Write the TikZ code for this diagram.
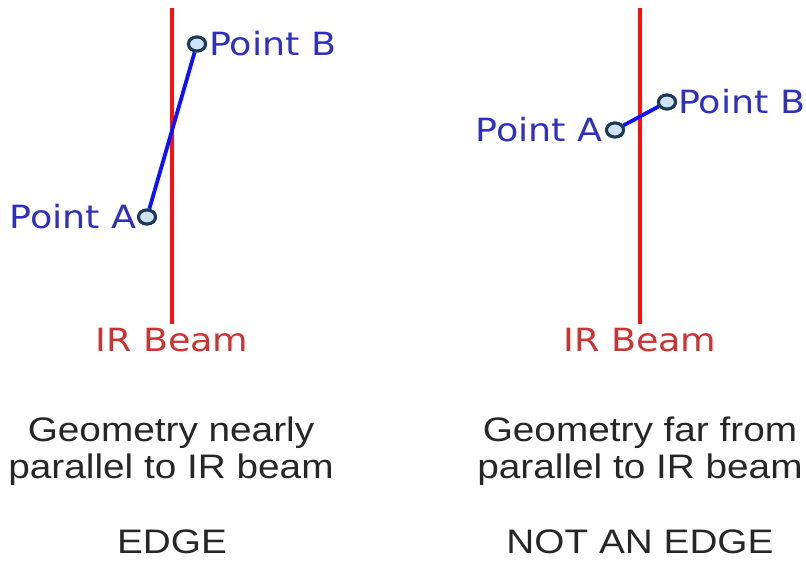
\documentclass[tikz,border=0pt]{standalone}
\usepackage{fontspec}
\usetikzlibrary{shapes.geometric}
\newfontfamily\lblfont[FakeStretch=1.14]{DejaVu Sans}
\newfontfamily\capfont[FakeStretch=1.14]{Liberation Sans}
\definecolor{beamred}{HTML}{FF1010}
\definecolor{beamtxt}{HTML}{CC3333}
\definecolor{ptblue}{HTML}{1010FF}
\definecolor{ptlbl}{HTML}{3030C0}
\definecolor{ptfill}{HTML}{CFE2F3}
\definecolor{ptedge}{HTML}{1C3A55}
\begin{document}
\begin{tikzpicture}[x=1pt,y=-1pt,
  beam/.style={draw=beamred,line width=3.5pt},
  beamlbl/.style={text=beamtxt,font=\lblfont\fontsize{32}{36}\selectfont,inner sep=0pt},
  pt/.style={ellipse,draw=ptedge,fill=ptfill,line width=3pt,minimum width=17pt,minimum height=14pt,inner sep=0pt},
  ptlabel/.style={text=ptlbl,font=\lblfont\fontsize{32}{36}\selectfont,inner sep=0pt},
  seg/.style={draw=ptblue,line width=3.8pt},
  captxt/.style={font=\capfont\fontsize{34}{37}\selectfont,align=center,inner sep=0pt,text=black!85}
]
\useasboundingbox (0,0) rectangle (806,561);
% left panel
\coordinate (lt) at (172,8);
\node[beamlbl,anchor=north] (lbeam) at (172,328) {IR Beam};
\draw[beam] (lt) -- (172,324);
\node[pt] (la) at (147,217) {};
\node[pt] (lb) at (197,44) {};
\draw[seg] (la) -- (lb);
\node[pt] at (147,217) {};
\node[pt] at (197,44) {};
\node[ptlabel,anchor=east] (lalbl) at (137,217) {Point A};
\node[ptlabel,anchor=west] (lblbl) at (209,44) {Point B};
% right panel
\coordinate (rt) at (640,8);
\node[beamlbl,anchor=north] (rbeam) at (640,328) {IR Beam};
\draw[beam] (rt) -- (640,324);
\node[pt] (ra) at (615,130) {};
\node[pt] (rb) at (667,102) {};
\draw[seg] (ra) -- (rb);
\node[pt] at (615,130) {};
\node[pt] at (667,102) {};
\node[ptlabel,anchor=east] (ralbl) at (603,130) {Point A};
\node[ptlabel,anchor=west] (rblbl) at (678,102) {Point B};
% captions
\node[captxt] (lcap) at (171,451) {Geometry nearly\\parallel to IR beam};
\node[captxt] (rcap) at (640,451) {Geometry far from\\parallel to IR beam};
\node[captxt,anchor=base] (ledge) at (172,553) {EDGE};
\node[captxt,anchor=base] (redge) at (640,553) {NOT AN EDGE};
\end{tikzpicture}
\end{document}
